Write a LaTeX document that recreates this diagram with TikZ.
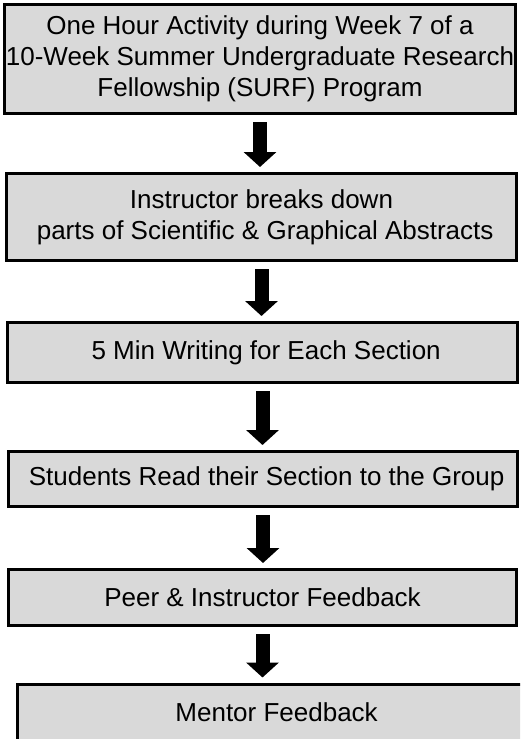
\documentclass[tikz,border=0pt]{standalone}
\usepackage{fontspec}
\setmainfont{Liberation Sans}
\usepackage{tikz}
\usetikzlibrary{arrows.meta}

\begin{document}
\begin{tikzpicture}[
    x=1pt,y=-1pt,
    stepbox/.style={draw,black,line width=3pt,fill=boxgray,inner sep=0pt,align=center,
      font=\fontsize{26}{31}\selectfont},
    flow/.style={line width=14pt,-{Triangle[width=32pt,length=15pt]},
      shorten <=7pt,shorten >=5pt}
    ]
    \definecolor{boxgray}{RGB}{217,217,217}
    \useasboundingbox (0, 0) rectangle (520, 739);
    \clip (0, 0) rectangle (520, 739);
    \node[stepbox,minimum width=511pt,minimum height=109pt] (surf) at (260, 59)
      {One Hour Activity during Week 7 of a\\10-Week Summer Undergraduate Research\\Fellowship (SURF) Program};
    \node[stepbox,minimum width=510pt,minimum height=87pt] (parts) at (261.5, 217)
      {Instructor breaks down\\ \ parts of Scientific \& Graphical Abstracts};
    \node[stepbox,minimum width=510pt,minimum height=60pt] (write) at (262.5, 352.5)
      {\ 5 Min Writing for Each Section};
    \node[stepbox,minimum width=509pt,minimum height=55pt] (read) at (263, 479)
      {\ Students Read their Section to the Group};
    \node[stepbox,minimum width=508pt,minimum height=56pt] (peer) at (262.5, 597.5)
      {Peer \& Instructor Feedback};
    \node[stepbox,minimum width=511pt,minimum height=56pt] (mentor) at (273, 712)
      {\ Mentor Feedback};
    \draw[flow] (surf.south) -- (surf.south |- parts.north);
    \draw[flow] (parts.south) -- (parts.south |- write.north);
    \draw[flow] (write.south) -- (write.south |- read.north);
    \draw[flow] (read.south) -- (read.south |- peer.north);
    \draw[flow] (peer.south) -- (peer.south |- mentor.north);
  \end{tikzpicture}
\end{document}
